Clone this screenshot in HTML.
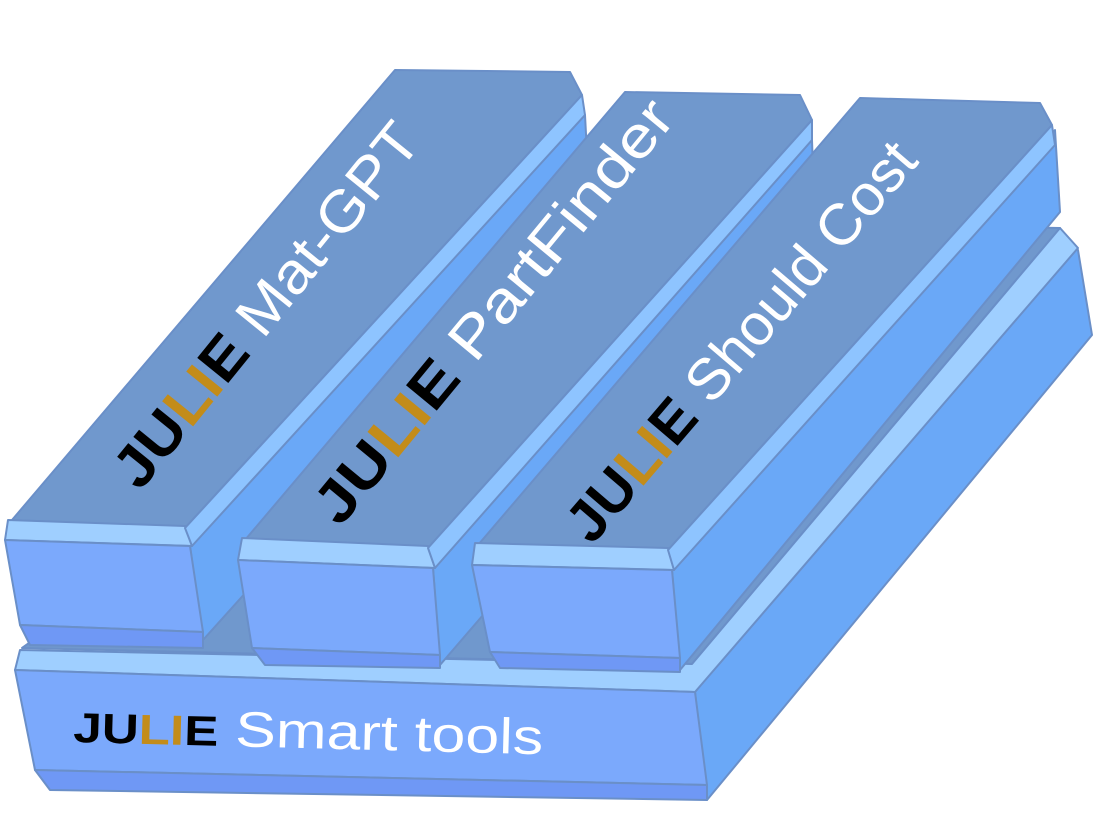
<!DOCTYPE html>
<html><head><style>html,body{margin:0;padding:0;background:#fff}svg{display:block}</style></head>
<body>
<svg width="1102" height="818" viewBox="0 0 1102 818" xmlns="http://www.w3.org/2000/svg" font-family="Liberation Sans, sans-serif">
<g stroke="#6a8fc8" stroke-width="2" stroke-linejoin="round">
<!-- base -->
<polygon points="695,692 1065,242 1078,250 1092,335 707,800" fill="#6aa8f7"/>
<polygon points="22,648 620,220 1060,228 692,664" fill="#7098cd"/>
<polygon points="15,670 20,650 692,664 1060,228 1078,248 695,692" fill="#9fcfff"/>
<polygon points="15,670 695,692 707,785 35,770" fill="#7ba9fc"/>
<polygon points="35,770 707,785 707,800 50,790" fill="#6f98f5"/>
<!-- bar1 -->
<polygon points="190,546 585,115 590,210 203,640" fill="#6aa8f7"/>
<polygon points="12,520 395,70 570,72 582,95 185,528" fill="#7098cd"/>
<polygon points="8,520 185,526 192,546 5,540" fill="#9fcfff"/>
<polygon points="185,528 582,95 585,115 192,546" fill="#8ec4ff"/>
<polygon points="5,540 190,546 203,632 20,625" fill="#7ba9fc"/>
<polygon points="20,625 203,632 203,648 30,645" fill="#6f98f5"/>
<!-- bar2 -->
<polygon points="433,568 812,140 815,230 440,665" fill="#6aa8f7"/>
<polygon points="245,540 625,92 800,95 812,120 428,548" fill="#7098cd"/>
<polygon points="242,538 428,546 435,568 238,560" fill="#9fcfff"/>
<polygon points="428,548 812,120 812,140 435,568" fill="#8ec4ff"/>
<polygon points="238,560 433,568 440,655 252,648" fill="#7ba9fc"/>
<polygon points="252,648 440,655 440,668 265,665" fill="#6f98f5"/>
<!-- bar3 -->
<polygon points="672,570 1055,130 1060,212 680,670" fill="#6aa8f7"/>
<polygon points="478,545 860,98 1040,103 1052,125 668,550" fill="#7098cd"/>
<polygon points="475,543 668,548 674,570 472,565" fill="#9fcfff"/>
<polygon points="668,550 1052,125 1055,145 674,570" fill="#8ec4ff"/>
<polygon points="472,565 672,570 680,658 490,652" fill="#7ba9fc"/>
<polygon points="490,652 680,658 680,672 500,668" fill="#6f98f5"/>
</g>
<g font-size="58">
<text transform="translate(140,492) rotate(-51)" textLength="450" lengthAdjust="spacingAndGlyphs"><tspan font-weight="bold" fill="#000">JU</tspan><tspan font-weight="bold" fill="#c38c1a">LI</tspan><tspan font-weight="bold" fill="#000">E</tspan><tspan fill="#fff"> Mat-GPT</tspan></text>
<text transform="translate(340,528) rotate(-50.5)" textLength="530" lengthAdjust="spacingAndGlyphs"><tspan font-weight="bold" fill="#000">JU</tspan><tspan font-weight="bold" fill="#c38c1a">LI</tspan><tspan font-weight="bold" fill="#000">E</tspan><tspan fill="#fff">  PartFinder</tspan></text>
<text transform="translate(592,546) rotate(-49.5)" textLength="505" lengthAdjust="spacingAndGlyphs"><tspan font-weight="bold" fill="#000">JU</tspan><tspan font-weight="bold" fill="#c38c1a">LI</tspan><tspan font-weight="bold" fill="#000">E</tspan><tspan fill="#fff"> Should Cost</tspan></text>
</g>
<text transform="translate(73,742) rotate(1.5)" font-size="50" textLength="470" lengthAdjust="spacingAndGlyphs"><tspan font-weight="bold" font-size="42" fill="#000">JU</tspan><tspan font-weight="bold" font-size="42" fill="#c38c1a">LI</tspan><tspan font-weight="bold" font-size="42" fill="#000">E</tspan><tspan fill="#fff"> Smart tools</tspan></text>
</svg>
</body></html>
